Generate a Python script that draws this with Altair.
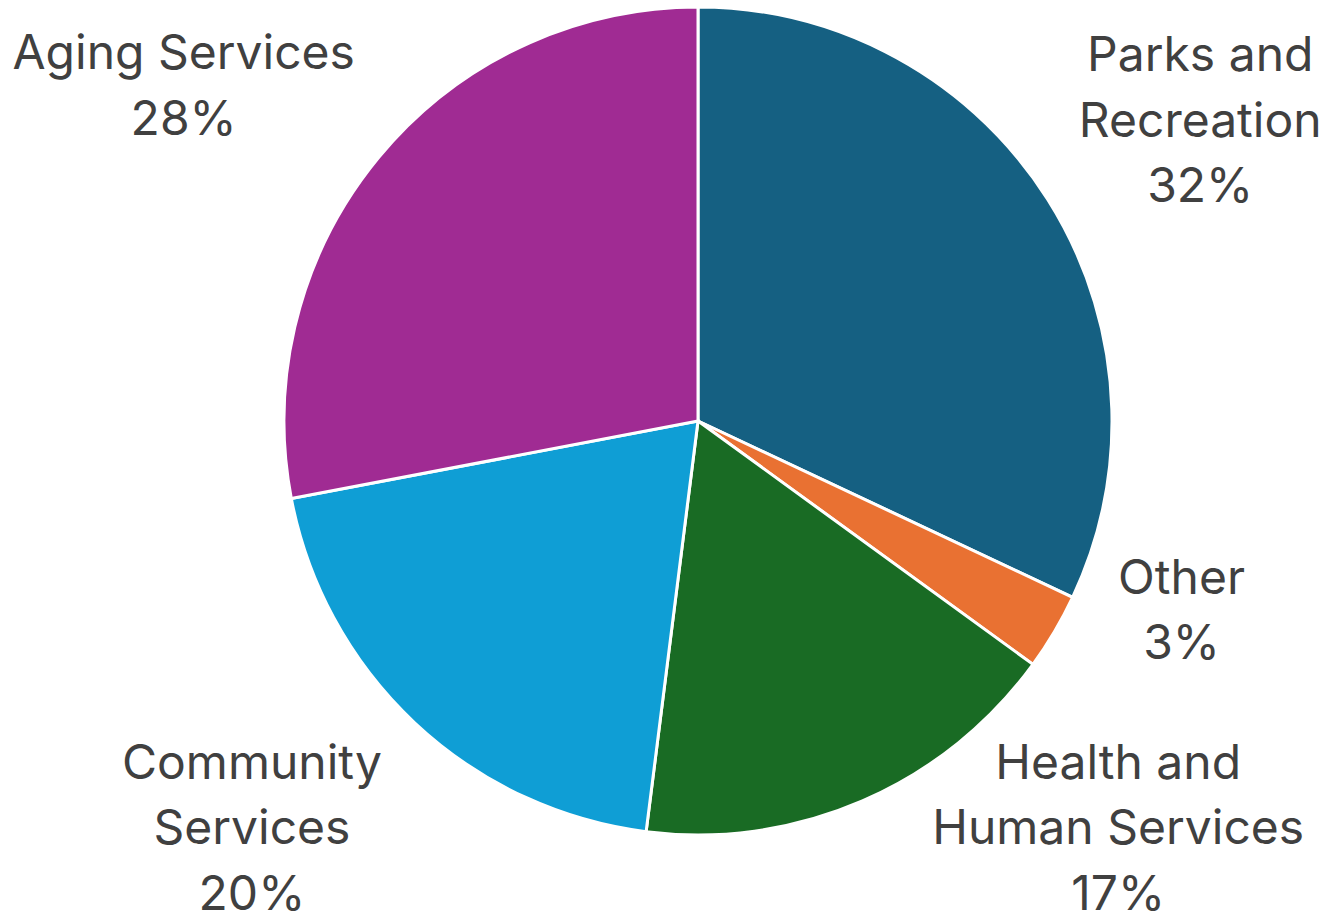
import math
import altair as alt
import pandas as pd

# Budget share by service area, clockwise from 12 o'clock
categories = ["Parks and Recreation", "Other", "Health and Human Services",
              "Community Services", "Aging Services"]
shares = [32, 3, 17, 20, 28]
colors = ["#156082", "#E97132", "#196B24", "#0F9ED5", "#A02B93"]

# How each category name is broken onto lines in its label
name_lines = [
    ["Parks and", "Recreation"],
    ["Other"],
    ["Health and", "Human Services"],
    ["Community", "Services"],
    ["Aging Services"],
]
# Where each label's first line sits: angle (degrees clockwise from top), distance (px)
label_angle = [54.1, 108.2, 129.3, 232.4, 305.4]
label_dist = [620, 509, 543, 563, 631]

pie_df = pd.DataFrame({
    "category": categories,
    "share": shares,
    "order": list(range(len(categories))),
})

label_df = pd.DataFrame({
    "category": categories,
    "text": [lines + [f"{s}%"] for lines, s in zip(name_lines, shares)],
    "angle": label_angle,
    "dist": label_dist,
})

pie = alt.Chart(pie_df).mark_arc(
    radius=414, stroke="white", strokeWidth=3
).encode(
    theta=alt.Theta("share:Q", stack=True),
    order=alt.Order("order:Q"),
    color=alt.Color("category:N",
                    scale=alt.Scale(domain=categories, range=colors),
                    legend=None),
)

labels = alt.Chart(label_df).mark_text(
    font="Inter", fontSize=48, color="#404040",
    align="center", baseline="middle", lineHeight=65.5,
).encode(
    theta=alt.Theta("angle:Q", stack=None,
                    scale=alt.Scale(domain=[0, 360], range=[0, 2 * math.pi])),
    radius=alt.Radius("dist:Q", scale=None),
    text="text",
)

chart = alt.layer(pie, labels).resolve_scale(
    theta="independent"
).properties(
    width=1268, height=842,
    padding={"left": 64, "top": 0, "right": 0, "bottom": 74},
    autosize=alt.AutoSizeParams(type="none"),
).configure_view(stroke=None)

chart.save("out.html", embed_options={"renderer": "svg", "actions": False})
